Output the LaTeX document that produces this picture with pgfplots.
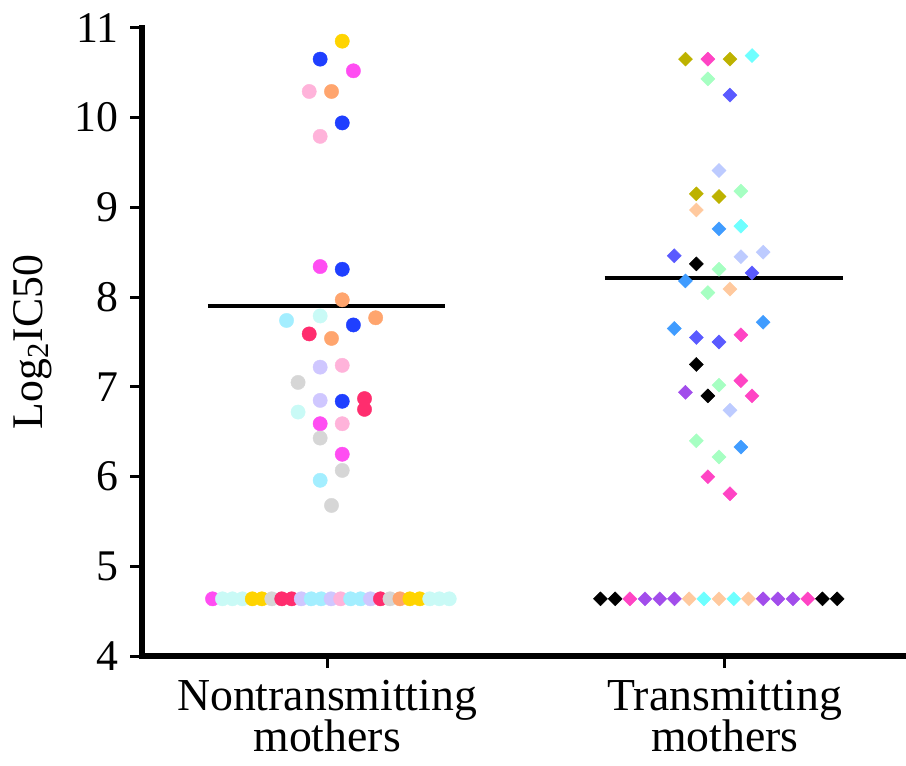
\documentclass[border=0pt]{standalone}
\usepackage{fontspec}
\setmainfont{Liberation Serif}
\usepackage{pgfplots}
\usepackage{pgfplotstable}
\pgfplotsset{compat=1.18}

% colours
\definecolor{cgold}{HTML}{FFD400}
\definecolor{cblue}{HTML}{1F3FFF}
\definecolor{cmag}{HTML}{FF4DF2}
\definecolor{cpink}{HTML}{FFB3DA}
\definecolor{csalm}{HTML}{FFA56E}
\definecolor{ccyan}{HTML}{A3EEFF}
\definecolor{clcyan}{HTML}{C9FAF6}
\definecolor{ccrim}{HTML}{FF2D6E}
\definecolor{clav}{HTML}{CFC7FF}
\definecolor{cgrey}{HTML}{D6D6D6}
\definecolor{tolive}{HTML}{BDB200}
\definecolor{thpink}{HTML}{FF44C4}
\definecolor{tcyan}{HTML}{6EFFFF}
\definecolor{tmint}{HTML}{A6FFC2}
\definecolor{tvblue}{HTML}{5A5AFF}
\definecolor{tperi}{HTML}{BDCBFF}
\definecolor{tpeach}{HTML}{FFC99E}
\definecolor{tdodger}{HTML}{409CFF}
\definecolor{tpurp}{HTML}{A24DEB}

% nontransmitting mothers
\pgfplotstableread{
x y c
1.038 10.85 gold
0.9825 10.65 blue
1.066 10.52 mag
0.955 10.29 pink
1.011 10.29 salm
1.038 9.94 blue
0.9825 9.79 pink
0.9825 8.34 mag
1.038 8.31 blue
1.038 7.97 salm
0.9825 7.79 lcyan
0.898 7.74 cyan
1.122 7.77 salm
1.066 7.69 blue
0.955 7.59 crim
1.011 7.54 salm
0.9825 7.22 lav
1.038 7.24 pink
0.927 7.05 grey
0.9825 6.85 lav
1.038 6.84 blue
1.094 6.87 crim
1.094 6.75 crim
0.927 6.72 lcyan
0.9825 6.59 mag
1.038 6.59 pink
0.9825 6.43 grey
1.038 6.25 mag
1.038 6.07 grey
0.9825 5.96 cyan
1.011 5.68 grey
0.712 4.64 mag
0.737 4.64 lcyan
0.762 4.64 lcyan
0.787 4.64 lcyan
0.812 4.64 gold
0.836 4.64 gold
0.861 4.64 grey
0.886 4.64 crim
0.911 4.64 crim
0.935 4.64 lav
0.960 4.64 cyan
0.985 4.64 cyan
1.010 4.64 lav
1.034 4.64 pink
1.059 4.64 cyan
1.084 4.64 cyan
1.109 4.64 lav
1.134 4.64 crim
1.158 4.64 grey
1.183 4.64 salm
1.208 4.64 gold
1.233 4.64 gold
1.258 4.64 lcyan
1.282 4.64 lcyan
1.307 4.64 lcyan
}\nontrans

% transmitting mothers
\pgfplotstableread{
x y c
1.9007 10.65 olive
1.957 10.65 hpink
2.0125 10.65 olive
2.068 10.69 cyan
1.957 10.43 mint
2.0125 10.25 vblue
1.985 9.41 peri
1.928 9.15 olive
1.985 9.12 olive
2.04 9.18 mint
1.928 8.97 peach
1.985 8.76 dodger
2.04 8.79 cyan
1.8725 8.46 vblue
2.096 8.50 peri
2.04 8.45 peri
1.928 8.37 black
1.985 8.31 mint
2.068 8.27 vblue
1.9007 8.18 dodger
1.957 8.05 mint
2.0125 8.09 peach
1.8725 7.65 dodger
1.928 7.55 vblue
1.985 7.50 vblue
2.04 7.58 hpink
2.096 7.72 dodger
1.928 7.25 black
1.9007 6.94 purp
1.957 6.90 black
1.985 7.02 mint
2.04 7.07 hpink
2.068 6.90 hpink
2.0125 6.74 peri
1.928 6.40 mint
2.04 6.33 dodger
1.985 6.22 mint
1.957 6.00 hpink
2.0125 5.81 hpink
1.687 4.64 black
1.724 4.64 black
1.761 4.64 hpink
1.799 4.64 purp
1.836 4.64 purp
1.873 4.64 purp
1.910 4.64 peach
1.947 4.64 cyan
1.985 4.64 peach
2.022 4.64 cyan
2.059 4.64 peach
2.096 4.64 purp
2.133 4.64 purp
2.171 4.64 purp
2.208 4.64 hpink
2.245 4.64 black
2.282 4.64 black
}\trans

\begin{document}
\fontsize{20}{23}\selectfont
\begin{tikzpicture}
\begin{axis}[
    scale only axis,
    width=382.5pt, height=316pt,
    xmin=0.535, xmax=2.4475,
    ymin=4, ymax=11,
    axis x line=bottom, axis y line=left,
    axis line style={-, line width=3pt, line cap=rect},
    tick align=outside,
    major tick length=6pt,
    tick style={line width=1.5pt, black},
    xtick={1,2},
    xticklabels={Nontransmitting\\mothers, Transmitting\\mothers},
    xticklabel style={align=center, font=\fontsize{23}{21}\selectfont, yshift=1pt},
    ytick={4,5,...,11},
    yticklabel style={font=\fontsize{22}{23}\selectfont, xshift=1pt},
    /pgf/number format/assume math mode=true,
    ylabel={Log\textsubscript{2}IC50},
    ylabel style={font=\fontsize{22}{23}\selectfont, yshift=-2pt},
    clip=false,
]
% medians
\addplot[black, line width=2pt] coordinates {(0.70,7.9) (1.2975,7.9)};
\addplot[black, line width=2pt] coordinates {(1.6975,8.21) (2.2975,8.21)};

\addplot[only marks, mark=*, mark size=3.6pt, line width=0.2pt,
    scatter, point meta=explicit symbolic,
    scatter/classes={
      gold={draw=cgold,fill=cgold}, blue={draw=cblue,fill=cblue},
      mag={draw=cmag,fill=cmag}, pink={draw=cpink,fill=cpink},
      salm={draw=csalm,fill=csalm}, cyan={draw=ccyan,fill=ccyan},
      lcyan={draw=clcyan,fill=clcyan}, crim={draw=ccrim,fill=ccrim},
      lav={draw=clav,fill=clav}, grey={draw=cgrey,fill=cgrey}}]
    table[x=x, y=y, meta=c] {\nontrans};

\addplot[only marks, mark=square*, mark size=2.5pt, line width=0.2pt,
    every mark/.append style={rotate=45},
    scatter, point meta=explicit symbolic,
    scatter/classes={
      olive={draw=tolive,fill=tolive}, hpink={draw=thpink,fill=thpink},
      cyan={draw=tcyan,fill=tcyan}, mint={draw=tmint,fill=tmint},
      vblue={draw=tvblue,fill=tvblue}, peri={draw=tperi,fill=tperi},
      peach={draw=tpeach,fill=tpeach}, dodger={draw=tdodger,fill=tdodger},
      black={draw=black,fill=black}, purp={draw=tpurp,fill=tpurp}}]
    table[x=x, y=y, meta=c] {\trans};
\end{axis}
\path ([xshift=-70pt,yshift=-47pt]current axis.south west) rectangle ++(453pt,376.5pt);
\end{tikzpicture}
\end{document}
